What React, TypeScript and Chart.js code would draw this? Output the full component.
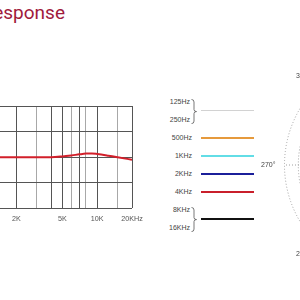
import React, { useEffect, useRef } from "react";
import { Chart, registerables } from "chart.js";

Chart.register(...registerables);

// ---------- data ----------
const titleText = "Frequency Response";

// frequency response curve (Hz, dB)
const responseFreqs = [20, 50, 100, 200, 500, 1000, 2000, 3000, 4000, 5000, 6000, 7000, 8000, 9000, 10000, 12500, 15000, 20000];
const responseDb = [0, 0, 0, 0, 0, 0, 0, 0, 0, 0.3, 0.7, 1.1, 1.4, 1.45, 1.25, 0.6, 0, -1.0];

// vertical grid lines of the log axis
const gridFreqs = [20, 30, 40, 50, 100, 200, 300, 500, 1000, 2000, 3000, 4000, 5000, 6000, 7000, 8000, 10000, 15000, 20000];
const majorGridFreqs = [20, 50, 100, 200, 500, 1000, 2000, 4000, 5000, 7000, 10000, 20000];
const xTickValues = [20, 50, 100, 200, 500, 1000, 2000, 5000, 10000, 20000];
const xTickLabels = ["20", "50", "100", "200", "500", "1K", "2K", "5K", "10K", "20KHz"];

const dbMin = -20;
const dbMax = 20;
const dbStep = 10;

// legend
const legendLabels = ["125Hz", "250Hz", "500Hz", "1KHz", "2KHz", "4KHz", "8KHz", "16KHz"];
const legendGroups = [[0, 1], [2], [3], [4], [5], [6, 7]];
const legendColors = ["#d2d2d2", "#e69a3c", "#62dde6", "#1b1f9a", "#c91f2b", "#111111"];

// polar pattern axis
const polarAngles = ["0°", "45°", "90°", "135°", "180°", "225°", "270°", "315°"];
const polarMin = -40;
const polarMax = 0;
const polarStep = 5;

const SANS = "'Liberation Sans', Arial, sans-serif";

function ResponseChart() {
  const ref = useRef<HTMLCanvasElement>(null);
  useEffect(() => {
    const chart = new Chart(ref.current!, {
      type: "line",
      data: {
        datasets: [
          {
            data: responseFreqs.map((f, i) => ({ x: f, y: responseDb[i] })),
            borderColor: "#d21f2a",
            borderWidth: 2,
            pointRadius: 0,
            tension: 0.4,
            cubicInterpolationMode: "monotone",
            fill: false,
          },
        ],
      },
      options: {
        animation: false,
        responsive: false,
        devicePixelRatio: 1,
        layout: { padding: { left: 10, right: 20, top: 106, bottom: 9 } },
        plugins: { legend: { display: false }, tooltip: { enabled: false } },
        scales: {
          x: {
            type: "logarithmic",
            min: 20,
            max: 20000,
            afterBuildTicks: (axis: any) => {
              axis.ticks = gridFreqs.map((v) => ({ value: v }));
            },
            ticks: {
              autoSkip: false,
              maxRotation: 0,
              padding: 6,
              color: "#555",
              font: { size: 7.2, family: SANS },
              callback: (v: any) => {
                const i = xTickValues.indexOf(Number(v));
                return i >= 0 ? xTickLabels[i] : "";
              },
            },
            grid: {
              drawTicks: false,
              lineWidth: 1,
              color: (ctx: any) =>
                ctx.tick && majorGridFreqs.includes(ctx.tick.value) ? "#555" : "#a8a8a8",
            },
            border: { display: false },
          },
          y: {
            min: dbMin,
            max: dbMax,
            ticks: { display: false, stepSize: dbStep },
            grid: { drawTicks: false, color: "#555", lineWidth: 1 },
            border: { display: false },
          },
        },
      },
    } as any);
    return () => chart.destroy();
  }, []);
  return (
    <canvas
      ref={ref}
      width={377}
      height={238}
      style={{ position: "absolute", left: -225, top: 0, width: 377, height: 238 }}
    />
  );
}

function PolarChart() {
  const ref = useRef<HTMLCanvasElement>(null);
  useEffect(() => {
    const chart = new Chart(ref.current!, {
      type: "radar",
      data: {
        labels: polarAngles,
        datasets: [],
      },
      options: {
        animation: false,
        responsive: false,
        devicePixelRatio: 1,
        plugins: { legend: { display: false }, tooltip: { enabled: false } },
        scales: {
          r: {
            min: polarMin,
            max: polarMax,
            ticks: { display: false, stepSize: polarStep },
            grid: { circular: true, color: "#a0a0a0", lineWidth: 1 },
            border: { dash: [1, 2] },
            angleLines: { color: "#a0a0a0", lineWidth: 1, borderDash: [1, 2] },
            pointLabels: {
              padding: 9,
              color: "#444",
              font: { size: 7, family: SANS },
            },
          },
        },
      },
    } as any);
    return () => chart.destroy();
  }, []);
  return (
    <canvas
      ref={ref}
      width={268}
      height={268}
      style={{ position: "absolute", left: 260, top: 31, width: 268, height: 268 }}
    />
  );
}

function Brace({ top, bottom, left }: { top: number; bottom: number; left: number }) {
  const h = bottom - top;
  const m = h / 2;
  const d = `M0.5,0.5 Q3,0.5 3,3 L3,${m - 2} Q3,${m} 5.5,${m} Q3,${m} 3,${m + 2} L3,${h - 3} Q3,${h - 0.5} 0.5,${h - 0.5}`;
  return (
    <svg width={7} height={h} style={{ position: "absolute", left, top }}>
      <path d={d} fill="none" stroke="#555" strokeWidth={0.8} />
    </svg>
  );
}

function Legend() {
  const rowY = (i: number) => 101.6 + 18.1 * i;
  const items: React.ReactNode[] = [];
  legendLabels.forEach((lab, i) => {
    const braced = legendGroups.some((g) => g.length > 1 && g.includes(i));
    items.push(
      <div
        key={"l" + i}
        style={{
          position: "absolute",
          right: 300 - (braced ? 190 : 192),
          top: rowY(i) - 5,
          height: 10,
          lineHeight: "10px",
          fontSize: 7,
          fontFamily: SANS,
          color: "#444",
          whiteSpace: "nowrap",
        }}
      >
        {lab}
      </div>
    );
  });
  legendGroups.forEach((g, gi) => {
    const y = g.reduce((s, i) => s + rowY(i), 0) / g.length;
    items.push(
      <div
        key={"c" + gi}
        style={{
          position: "absolute",
          left: 201,
          width: 53,
          top: y - (gi === 0 ? 0.5 : 1),
          height: gi === 0 ? 1 : 2,
          background: legendColors[gi],
        }}
      />
    );
    if (g.length > 1) {
      items.push(
        <Brace key={"b" + gi} top={rowY(g[0]) - 3} bottom={rowY(g[g.length - 1]) + 4} left={191} />
      );
    }
  });
  return <>{items}</>;
}

export default function App() {
  return (
    <div
      style={{
        position: "fixed",
        left: 0,
        top: 0,
        width: 300,
        height: 300,
        overflow: "hidden",
        background: "#fff",
      }}
    >
      <div
        style={{
          position: "absolute",
          left: 65,
          top: 3,
          transform: "translateX(-100%)",
          whiteSpace: "nowrap",
          fontFamily: "Roboto, sans-serif",
          fontSize: 19,
          lineHeight: "19px",
          color: "#a01a3c",
        }}
      >
        {titleText}
      </div>
      <ResponseChart />
      <Legend />
      <PolarChart />
    </div>
  );
}
